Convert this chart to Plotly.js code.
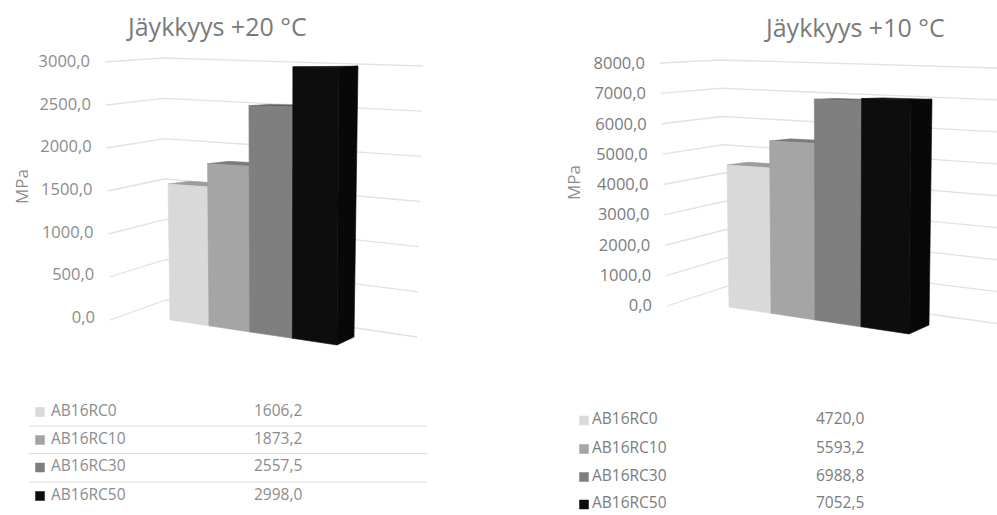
<!DOCTYPE html>
<html>
<head>
<meta charset="utf-8">
<script src="https://cdn.plot.ly/plotly-3.0.1.min.js"></script>
<style>html,body{margin:0;padding:0;background:#fff;overflow:hidden}#chart{width:997px;height:515px}</style>
</head>
<body>
<div id="chart"></div>
<script>
// Stiffness of the asphalt mixes at two temperatures
const categories = ['AB16RC0', 'AB16RC10', 'AB16RC30', 'AB16RC50'];
const stiffness20 = [1606.2, 1873.2, 2557.5, 2998.0];
const stiffness10 = [4720.0, 5593.2, 6988.8, 7052.5];
const ticks20 = [0, 500, 1000, 1500, 2000, 2500, 3000];
const ticks10 = [0, 1000, 2000, 3000, 4000, 5000, 6000, 7000, 8000];
const titleTexts = ['Jäykkyys +20 °C', 'Jäykkyys +10 °C'];
const unitLabel = 'MPa';

const frontColors = ['#d9d9d9', '#a5a5a5', '#7f7f7f', '#0d0d0d'];
const topColors = ['#9c9c9c', '#7b7b7b', '#5e5e5e', '#0a0a0a'];
const sideColors = ['#b5b5b5', '#8a8a8a', '#666666', '#080808'];
const gridColor = '#e2e2e2';
const textColors = ['#8c8c8c', '#7c7c7c'];
const fontFamily = '"Open Sans", sans-serif';

// View calibration of each oblique 3D panel, in canvas units.
const views = [
  {
    values: stiffness20, ticks: ticks20, max: 3000,
    labelZero: 319, labelMax: 63,
    wall: { left: [[110, 320], [105, 62]], corner: [[166, 300], [163, 58]], right: [[417, 337], [423, 66]] },
    box: {
      fb: [[170, 320], [337, 345]], bb: [[192, 313], [354, 337]],
      ft: [[166.3, 66], [339, 67]], bt: [[188, 67], [358, 66]]
    },
    x0: 0, x1: 498.5, labelGap: 15
  },
  {
    values: stiffness10, ticks: ticks10, max: 8000,
    labelZero: 307, labelMax: 65,
    wall: { left: [[667, 306], [660, 63]], corner: [[728, 286], [720, 60]], right: [[997, 323.5], [997, 68]] },
    box: {
      fb: [[729, 307], [909, 334]], bb: [[750, 300], [929, 325]],
      ft: [[725.6, 66.3], [911.3, 68.6]], bt: [[746.6, 66.4], [932.4, 69]]
    },
    x0: 498.5, x1: 997, labelGap: 15
  }
];

const lerp = (a, b, t) => a + (b - a) * t;
const lerp2 = (p, q, t) => [lerp(p[0], q[0], t), lerp(p[1], q[1], t)];
// Foreshortening along the category direction
const warp = s => { const a = 0.914; return s * a / (1 + s * (a - 1)); };

// Canvas row -> stiffness units on the panel's y axis
const toAxis = (view, row) => (view.labelZero - row) * view.max / (view.labelZero - view.labelMax);
const axisRange = view => [toAxis(view, 515), toAxis(view, 0)];

// Projects (category position, depth, stiffness) onto the panel
function project(view, s, d, v) {
  const b = view.box, t = warp(s);
  const bottom = lerp2(lerp2(b.fb[0], b.fb[1], t), lerp2(b.bb[0], b.bb[1], t), d);
  const top = lerp2(lerp2(b.ft[0], b.ft[1], t), lerp2(b.bt[0], b.bt[1], t), d);
  const p = lerp2(bottom, top, v / view.max);
  return [p[0], toAxis(view, p[1])];
}

function wallPoint(view, edge, v) {
  const e = view.wall[edge];
  const p = lerp2(e[0], e[1], v / view.max);
  return [p[0], toAxis(view, p[1])];
}

function face(pts, color, xa, ya) {
  const closed = pts.concat([pts[0]]);
  return {
    type: 'scatter', mode: 'lines', xaxis: xa, yaxis: ya, fill: 'toself', fillcolor: color,
    x: closed.map(p => p[0]), y: closed.map(p => p[1]),
    line: { color: color, width: 0.6 }, hoverinfo: 'skip', showlegend: false
  };
}

const fmt = v => v.toFixed(1).replace('.', ',');
const traces = [];

views.forEach((view, i) => {
  const xa = i === 0 ? 'x' : 'x2', ya = i === 0 ? 'y' : 'y2';

  // Wall and side-wall gridlines bending at the rear corner
  const gx = [], gy = [];
  view.ticks.forEach(t => {
    ['left', 'corner', 'right'].forEach(edge => {
      const p = wallPoint(view, edge, t);
      gx.push(p[0]); gy.push(p[1]);
    });
    gx.push(null); gy.push(null);
  });
  traces.push({
    type: 'scatter', mode: 'lines', xaxis: xa, yaxis: ya, x: gx, y: gy,
    line: { color: gridColor, width: 1.3 }, hoverinfo: 'skip', showlegend: false
  });

  // Value labels beside the left end of each gridline
  traces.push({
    type: 'scatter', mode: 'text', xaxis: xa, yaxis: ya,
    x: view.ticks.map(t => wallPoint(view, 'left', t)[0] - view.labelGap),
    y: view.ticks,
    text: view.ticks.map(fmt), textposition: 'middle left',
    textfont: { family: fontFamily, size: 16.5, color: textColors[i] },
    hoverinfo: 'skip', showlegend: false
  });

  // Columns, painted left to right so each one hides its neighbour's side
  view.values.forEach((v, k) => {
    const s0 = k / categories.length, s1 = (k + 1) / categories.length;
    traces.push(face([project(view, s0, 0, v), project(view, s1, 0, v), project(view, s1, 1, v), project(view, s0, 1, v)], topColors[k], xa, ya));
    traces.push(face([project(view, s1, 0, 0), project(view, s1, 1, 0), project(view, s1, 1, v), project(view, s1, 0, v)], sideColors[k], xa, ya));
    traces.push(face([project(view, s0, 0, 0), project(view, s1, 0, 0), project(view, s1, 0, v), project(view, s0, 0, v)], frontColors[k], xa, ya));
  });
});

// Data tables below the panels
const tableRows = [
  { rows: [412, 440, 467.5, 496], swatch: 40, name: 51, value: 254, values: stiffness20, rules: [426, 453.5, 482], ruleFrom: 29, ruleTo: 427, color: textColors[0] },
  { rows: [420.5, 449, 477, 504.5], swatch: 584, name: 592, value: 816, values: stiffness10, rules: [], ruleFrom: 0, ruleTo: 0, color: textColors[1] }
];
tableRows.forEach(tb => {
  traces.push({
    type: 'scatter', mode: 'markers', xaxis: 'x3', yaxis: 'y3',
    x: tb.rows.map(() => tb.swatch), y: tb.rows,
    marker: { symbol: 'square', size: 9.5, color: frontColors, line: { width: 0 } },
    hoverinfo: 'skip', showlegend: false
  });
  traces.push({
    type: 'scatter', mode: 'text', xaxis: 'x3', yaxis: 'y3',
    x: tb.rows.map(() => tb.name), y: tb.rows, text: categories, textposition: 'middle right',
    textfont: { family: fontFamily, size: 15.5, color: tb.color }, hoverinfo: 'skip', showlegend: false
  });
  traces.push({
    type: 'scatter', mode: 'text', xaxis: 'x3', yaxis: 'y3',
    x: tb.rows.map(() => tb.value), y: tb.rows, text: tb.values.map(fmt), textposition: 'middle right',
    textfont: { family: fontFamily, size: 15.5, color: tb.color }, hoverinfo: 'skip', showlegend: false
  });
  if (tb.rules.length) {
    const rx = [], ry = [];
    tb.rules.forEach(r => { rx.push(tb.ruleFrom, tb.ruleTo, null); ry.push(r, r, null); });
    traces.push({
      type: 'scatter', mode: 'lines', xaxis: 'x3', yaxis: 'y3', x: rx, y: ry,
      line: { color: '#d9d9d9', width: 1.2 }, hoverinfo: 'skip', showlegend: false
    });
  }
});

const hidden = { visible: false, fixedrange: true };
const noteAt = (text, x, y, size, color, angle) => ({
  text, x, y, xref: 'x3', yref: 'y3', xanchor: 'center', yanchor: 'middle', showarrow: false,
  textangle: angle || 0, font: { family: fontFamily, size, color }
});

const layout = {
  width: 997, height: 515,
  margin: { l: 0, r: 0, t: 0, b: 0 },
  paper_bgcolor: '#ffffff', plot_bgcolor: 'rgba(0,0,0,0)',
  showlegend: false,
  xaxis: Object.assign({}, hidden, { domain: [0, 0.5], range: [views[0].x0, views[0].x1] }),
  yaxis: Object.assign({}, hidden, { domain: [0, 1], range: axisRange(views[0]), title: { text: '' } }),
  xaxis2: Object.assign({}, hidden, { domain: [0.5, 1], range: [views[1].x0, views[1].x1] }),
  yaxis2: Object.assign({}, hidden, { domain: [0, 1], range: axisRange(views[1]), title: { text: '' } }),
  xaxis3: Object.assign({}, hidden, { domain: [0, 1], range: [0, 997] }),
  yaxis3: Object.assign({}, hidden, { domain: [0, 1], range: [515, 0] }),
  annotations: [
    noteAt(titleTexts[0], 216.5, 26, 25, '#7a7a7a'),
    noteAt(titleTexts[1], 854.5, 27, 25, '#7a7a7a'),
    noteAt(unitLabel, 21, 187, 17, textColors[0], -90),
    noteAt(unitLabel, 573, 183, 17, textColors[0], -90)
  ]
};

Plotly.newPlot('chart', traces, layout, { displayModeBar: false, staticPlot: true });
</script>
</body>
</html>
